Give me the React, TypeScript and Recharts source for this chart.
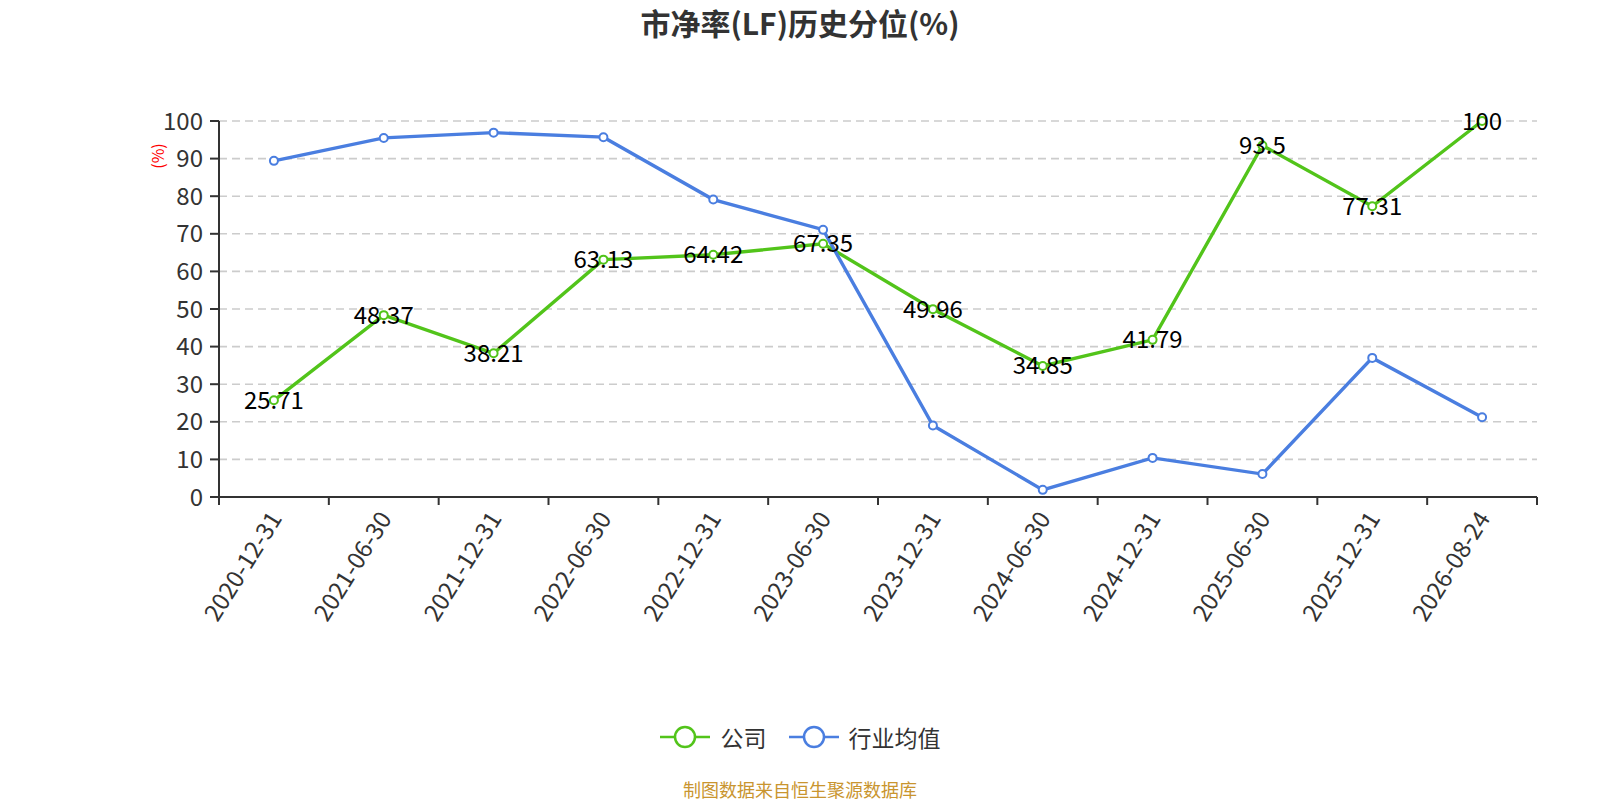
import React from "react";
import {
  LineChart,
  Line,
  XAxis,
  YAxis,
  CartesianGrid,
  LabelList,
} from "recharts";

const TITLE = "市净率(LF)历史分位(%)";
const FOOTER = "制图数据来自恒生聚源数据库";
const Y_UNIT = "(%)";

const DATES = [
  "2020-12-31",
  "2021-06-30",
  "2021-12-31",
  "2022-06-30",
  "2022-12-31",
  "2023-06-30",
  "2023-12-31",
  "2024-06-30",
  "2024-12-31",
  "2025-06-30",
  "2025-12-31",
  "2026-08-24",
];
const COMPANY = [25.71, 48.37, 38.21, 63.13, 64.42, 67.35, 49.96, 34.85, 41.79, 93.5, 77.31, 100];
const INDUSTRY = [89.4, 95.5, 96.9, 95.7, 79.1, 71.1, 19.0, 1.9, 10.4, 6.1, 37.0, 21.2];
const Y_TICKS = [0, 10, 20, 30, 40, 50, 60, 70, 80, 90, 100];

const SERIES_NAMES = ["公司", "行业均值"];
const GREEN = "#52c41a";
const BLUE = "#4a7ee0";
const FONT = "'Noto Sans CJK SC', 'Noto Sans', sans-serif";

const W = 1600;
const H = 800;
const M = { top: 121, right: 63, bottom: 0, left: 0 };
const Y_W = 219;
const PLOT_H = 376;
const BAND = (W - M.right - M.left - Y_W) / DATES.length;

const data = DATES.map((d, i) => ({
  date: d,
  company: COMPANY[i],
  industry: INDUSTRY[i],
}));

function XTick(props: any) {
  const { x, y, payload, index } = props;
  const axisY = y - 16;
  return (
    <g>
      <line x1={x - BAND / 2} x2={x - BAND / 2} y1={axisY} y2={axisY + 8} stroke="#333" strokeWidth={2} />
      {index === DATES.length - 1 && (
        <line x1={x + BAND / 2} x2={x + BAND / 2} y1={axisY} y2={axisY + 8} stroke="#333" strokeWidth={2} />
      )}
      <text
        x={x}
        y={y}
        transform={`rotate(-58, ${x}, ${y})`}
        textAnchor="end"
        dominantBaseline="central"
        fontSize={24}
        fontFamily={FONT}
        fill="#333"
      >
        {payload.value}
      </text>
    </g>
  );
}

function LegendIcon({ color }: { color: string }) {
  return (
    <svg width={50} height={24} style={{ display: "block" }}>
      <line x1={0} x2={50} y1={12} y2={12} stroke={color} strokeWidth={2.5} />
      <circle cx={25} cy={12} r={10} fill="#fff" stroke={color} strokeWidth={2.5} />
    </svg>
  );
}

export default function App() {
  return (
    <div style={{ position: "relative", width: W, height: H, background: "#fff", fontFamily: FONT }}>
      <style>{`body{margin:0}`}</style>
      <div
        style={{
          position: "absolute",
          top: 3,
          left: 0,
          width: W,
          textAlign: "center",
          fontSize: 30,
          fontWeight: 700,
          color: "#333",
          lineHeight: "38px",
        }}
      >
        {TITLE}
      </div>
      <LineChart width={W} height={H} data={data} margin={M}>
        <CartesianGrid
          horizontal
          vertical={false}
          stroke="#ccc"
          strokeWidth={1.6}
          strokeDasharray="8 5"
        />
        <XAxis
          dataKey="date"
          interval={0}
          padding={{ left: BAND / 2, right: BAND / 2 }}
          height={H - M.top - PLOT_H - M.bottom}
          tickSize={8}
          tickMargin={8}
          tickLine={false}
          axisLine={{ stroke: "#333", strokeWidth: 2 }}
          tick={<XTick />}
        />
        <YAxis
          width={Y_W}
          domain={[0, 100]}
          ticks={Y_TICKS}
          interval={0}
          tickSize={9}
          tickMargin={7}
          axisLine={{ stroke: "#333", strokeWidth: 2 }}
          tickLine={{ stroke: "#333", strokeWidth: 2 }}
          tick={{ fontSize: 24, fill: "#333", fontFamily: FONT }}
          label={(p: any) => {
            const vb = p.viewBox;
            const cx = vb.x + vb.width - 62;
            const cy = vb.y + 35;
            return (
              <text
                x={cx}
                y={cy}
                transform={`rotate(-90, ${cx}, ${cy})`}
                textAnchor="middle"
                dominantBaseline="central"
                fontSize={16}
                fill="#ff0000"
                fontFamily={FONT}
              >
                {Y_UNIT}
              </text>
            );
          }}
        />
        <Line
          dataKey="company"
          name={SERIES_NAMES[0]}
          stroke={GREEN}
          strokeWidth={3.4}
          dot={{ r: 4, fill: "#fff", stroke: GREEN, strokeWidth: 2 }}
          activeDot={false}
          isAnimationActive={false}
        />
        <Line
          dataKey="industry"
          name={SERIES_NAMES[1]}
          stroke={BLUE}
          strokeWidth={3.4}
          dot={{ r: 4, fill: "#fff", stroke: BLUE, strokeWidth: 2 }}
          activeDot={false}
          isAnimationActive={false}
        />
        <Line
          dataKey="company"
          stroke="none"
          dot={false}
          activeDot={false}
          legendType="none"
          isAnimationActive={false}
        >
          <LabelList dataKey="company" position="center" fill="#000" fontSize={24} fontFamily={FONT} />
        </Line>
      </LineChart>
      <div
        style={{
          position: "absolute",
          top: 722,
          left: 0,
          width: W,
          display: "flex",
          justifyContent: "center",
          alignItems: "center",
          fontSize: 23,
          color: "#333",
          lineHeight: "30px",
        }}
      >
        <LegendIcon color={GREEN} />
        <span style={{ marginLeft: 11, marginRight: 22 }}>{SERIES_NAMES[0]}</span>
        <LegendIcon color={BLUE} />
        <span style={{ marginLeft: 10 }}>{SERIES_NAMES[1]}</span>
      </div>
      <div
        style={{
          position: "absolute",
          top: 778,
          left: 0,
          width: W,
          textAlign: "center",
          fontSize: 18,
          color: "#c9952f",
          lineHeight: "22px",
        }}
      >
        {FOOTER}
      </div>
    </div>
  );
}
